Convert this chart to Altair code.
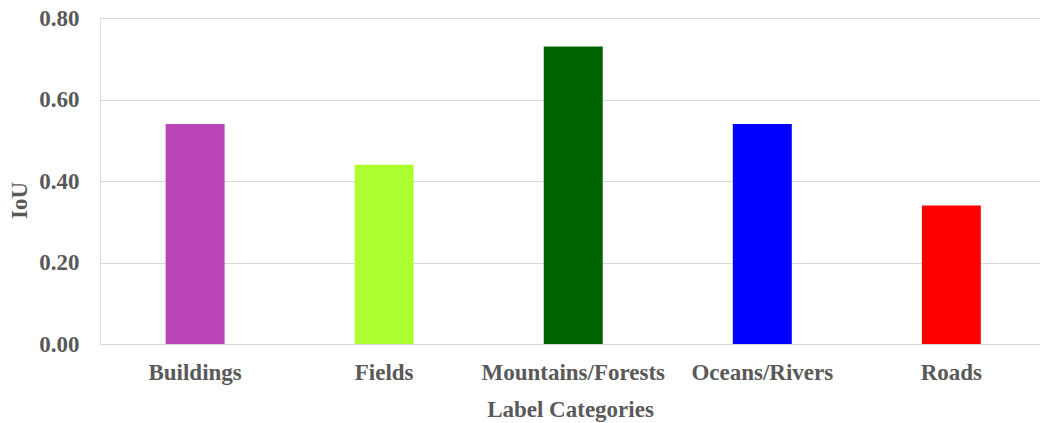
import altair as alt
import pandas as pd

categories = ["Buildings", "Fields", "Mountains/Forests", "Oceans/Rivers", "Roads"]
iou = [0.54, 0.44, 0.73, 0.54, 0.34]
colors = ["#BA45B7", "#ADFF2F", "#006400", "#0000FF", "#FF0000"]
y_ticks = [0.0, 0.2, 0.4, 0.6, 0.8]

df = pd.DataFrame({"cat": categories, "iou": iou})

FONT = "Liberation Serif"
GREY = "#595959"

chart = (
    alt.Chart(df)
    .mark_bar()
    .encode(
        x=alt.X(
            "cat:N",
            sort=categories,
            scale=alt.Scale(paddingInner=0.688, paddingOuter=0.33, align=0.526),
            axis=alt.Axis(
                title="Label Categories",
                labelAngle=0,
                labelLimit=0,
                labelFont=FONT,
                labelFontSize=23,
                labelFontWeight="bold",
                labelColor=GREY,
                labelBaseline="alphabetic",
                labelPadding=35,
                ticks=False,
                domain=True,
                domainColor="#d9d9d9",
                titleFont=FONT,
                titleFontSize=23,
                titleFontWeight="bold",
                titleColor=GREY,
                titleBaseline="alphabetic",
                titleY=72,
            ),
        ),
        y=alt.Y(
            "iou:Q",
            scale=alt.Scale(domain=[0, 0.8], nice=False),
            axis=alt.Axis(
                title="IoU",
                values=y_ticks,
                format=".2f",
                labelFont=FONT,
                labelFontSize=23,
                labelFontWeight="bold",
                labelColor=GREY,
                labelPadding=21,
                ticks=False,
                domain=False,
                grid=True,
                gridColor="#d9d9d9",
                gridWidth=1,
                titleFont=FONT,
                titleFontSize=23,
                titleFontWeight="bold",
                titleColor=GREY,
                titleAngle=270,
                titleAlign="center",
                titleBaseline="middle",
                titleX=-81,
                titleY=182,
            ),
        ),
        color=alt.Color(
            "cat:N",
            scale=alt.Scale(domain=categories, range=colors),
            legend=None,
        ),
    )
    .properties(
        width=940,
        height=326,
        autosize=alt.AutoSizeParams(type="none"),
        padding={"left": 100, "top": 18, "right": 0, "bottom": 79},
    )
    .configure_view(stroke=None)
    .configure(background="white")
)

chart.save("out.html", embed_options={"renderer": "svg", "actions": False})
